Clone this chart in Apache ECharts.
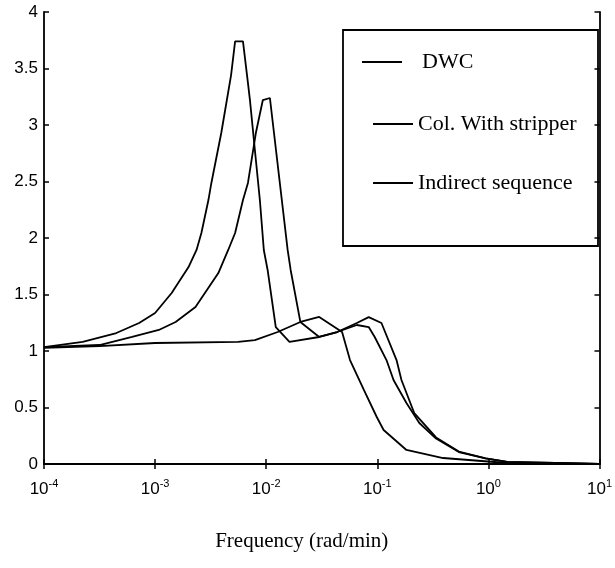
<!DOCTYPE html>
<html>
<head>
<meta charset="utf-8">
<script src="https://cdn.jsdelivr.net/npm/echarts@6/dist/echarts.min.js"></script>
<style>
html,body{margin:0;padding:0;background:#fff;}
#chart{width:615px;height:568px;}
</style>
</head>
<body>
<div id="chart"></div>
<script>
// ---- data ----
const seriesNames = ['DWC', 'Col. With stripper', 'Indirect sequence'];

const dwcFreq = [1e-4, 2.23e-4, 4.48e-4, 7.18e-4, 1.0e-3, 1.25e-3, 1.41e-3, 2.0e-3, 2.36e-3, 2.61e-3, 3.02e-3, 3.21e-3, 3.94e-3, 4.83e-3, 5.25e-3, 6.18e-3, 6.85e-3, 7.14e-3, 7.91e-3, 8.77e-3, 9.52e-3, 1.03e-2, 1.22e-2, 1.62e-2, 3.0e-2, 4.35e-2, 6.55e-2, 8.37e-2, 9.48e-2, 0.121, 0.140, 0.183, 0.239, 0.338, 0.542, 0.944, 1.48, 3.97, 10];
const dwcMag  = [1.035, 1.08, 1.159, 1.248, 1.336, 1.451, 1.513, 1.743, 1.894, 2.044, 2.336, 2.487, 2.929, 3.442, 3.74, 3.74, 3.372, 3.221, 2.779, 2.336, 1.894, 1.717, 1.212, 1.08, 1.124, 1.168, 1.23, 1.212, 1.124, 0.92, 0.743, 0.54, 0.363, 0.225, 0.106, 0.05, 0.018, 0.009, 0.0];

const colFreq = [1e-4, 3.16e-4, 6.21e-4, 1.08e-3, 1.53e-3, 2.31e-3, 3.71e-3, 4.55e-3, 5.25e-3, 6.18e-3, 6.85e-3, 8.07e-3, 9.33e-3, 1.08e-2, 1.56e-2, 1.66e-2, 2.03e-2, 3.0e-2, 4.35e-2, 6.55e-2, 8.37e-2, 0.109, 0.149, 0.165, 0.215, 0.338, 0.542, 0.944, 1.48, 3.97, 10];
const colMag  = [1.035, 1.053, 1.124, 1.186, 1.257, 1.389, 1.69, 1.894, 2.044, 2.336, 2.487, 2.929, 3.221, 3.239, 1.894, 1.717, 1.257, 1.124, 1.168, 1.248, 1.30, 1.248, 0.92, 0.743, 0.451, 0.235, 0.11, 0.05, 0.018, 0.009, 0.0];

const indFreq = [1e-4, 3.16e-4, 1.0e-3, 5.58e-3, 7.91e-3, 1.27e-2, 2.03e-2, 3.0e-2, 4.82e-2, 5.68e-2, 7.57e-2, 9.89e-2, 0.114, 0.183, 0.391, 1.48, 10];
const indMag  = [1.027, 1.044, 1.071, 1.08, 1.097, 1.168, 1.257, 1.301, 1.168, 0.92, 0.655, 0.416, 0.301, 0.124, 0.053, 0.009, 0.0];

const xTickExponents = [-4, -3, -2, -1, 0, 1];
const yTicks = [0, 0.5, 1, 1.5, 2, 2.5, 3, 3.5, 4];
const xAxisTitle = 'Frequency (rad/min)';

// ---- build chart ----
const pairs = (xs, ys) => xs.map((x, i) => [x, ys[i]]);
const chart = echarts.init(document.getElementById('chart'), null, {renderer: 'canvas'});

const lineStyle = {color: '#000', width: 1.8};
const grid = {left: 44, right: 11, top: 12, bottom: 104};
const tickIn = {show: true, inside: false, length: -5, lineStyle: {color: '#000', width: 1.5}};

function expLabel(v) {
  const e = Math.round(Math.log10(v));
  if (xTickExponents.indexOf(e) < 0) return '';
  return '{b|10}{s|' + e + '}';
}

const legendText = {fontFamily: 'Liberation Serif', fontSize: 22, color: '#000'};

const option = {
  backgroundColor: '#fff',
  animation: false,
  grid: grid,
  legend: [{
    orient: 'vertical',
    left: 357,
    top: 46,
    itemWidth: 40,
    itemHeight: 2,
    icon: 'rect',
    textStyle: legendText,
    data: [{name: seriesNames[0], textStyle: {padding: [0, 0, 0, 15]}}],
    itemStyle: {color: '#000'}
  }, {
    orient: 'vertical',
    left: 368,
    top: 108,
    itemWidth: 40,
    itemHeight: 2,
    itemGap: 37,
    icon: 'rect',
    textStyle: legendText,
    data: [seriesNames[1], seriesNames[2]],
    itemStyle: {color: '#000'}
  }],
  graphic: [{
    type: 'rect',
    shape: {x: 343, y: 30, width: 255, height: 216},
    style: {fill: null, stroke: '#000', lineWidth: 1.8},
    z: 1
  }],
  xAxis: [{
    type: 'log',
    logBase: 10,
    min: 1e-4,
    max: 10,
    name: xAxisTitle,
    nameLocation: 'middle',
    nameGap: 67,
    nameTextStyle: {fontFamily: 'Liberation Serif', fontSize: 21, color: '#000', padding: [0, 40, 0, 0]},
    axisLine: {lineStyle: {color: '#000', width: 1.8}},
    axisTick: tickIn,
    minorTick: {show: false},
    splitLine: {show: false},
    axisLabel: {
      margin: 14,
      color: '#000',
      formatter: expLabel,
      rich: {
        b: {fontFamily: 'Liberation Sans', fontSize: 17, color: '#000'},
        s: {fontFamily: 'Liberation Sans', fontSize: 11, color: '#000', padding: [0, 0, 11, 0]}
      }
    }
  }, {
    type: 'log',
    logBase: 10,
    min: 1e-4,
    max: 10,
    position: 'top',
    axisLine: {show: true, lineStyle: {color: '#000', width: 1.8}},
    axisTick: tickIn,
    axisLabel: {show: false},
    splitLine: {show: false}
  }],
  yAxis: [{
    type: 'value',
    min: yTicks[0],
    max: yTicks[yTicks.length - 1],
    interval: 0.5,
    axisLine: {show: true, lineStyle: {color: '#000', width: 1.8}},
    axisTick: tickIn,
    splitLine: {show: false},
    axisLabel: {margin: 6, color: '#000', fontFamily: 'Liberation Sans', fontSize: 17}
  }, {
    type: 'value',
    min: yTicks[0],
    max: yTicks[yTicks.length - 1],
    interval: 0.5,
    position: 'right',
    axisLine: {show: true, lineStyle: {color: '#000', width: 1.8}},
    axisTick: tickIn,
    splitLine: {show: false},
    axisLabel: {show: false}
  }],
  series: [
    {name: seriesNames[0], type: 'line', data: pairs(dwcFreq, dwcMag), showSymbol: false, symbol: 'none', lineStyle: lineStyle, itemStyle: {color: '#000'}},
    {name: seriesNames[1], type: 'line', data: pairs(colFreq, colMag), showSymbol: false, symbol: 'none', lineStyle: lineStyle, itemStyle: {color: '#000'}},
    {name: seriesNames[2], type: 'line', data: pairs(indFreq, indMag), showSymbol: false, symbol: 'none', lineStyle: lineStyle, itemStyle: {color: '#000'}}
  ]
};
chart.setOption(option);
</script>
</body>
</html>
